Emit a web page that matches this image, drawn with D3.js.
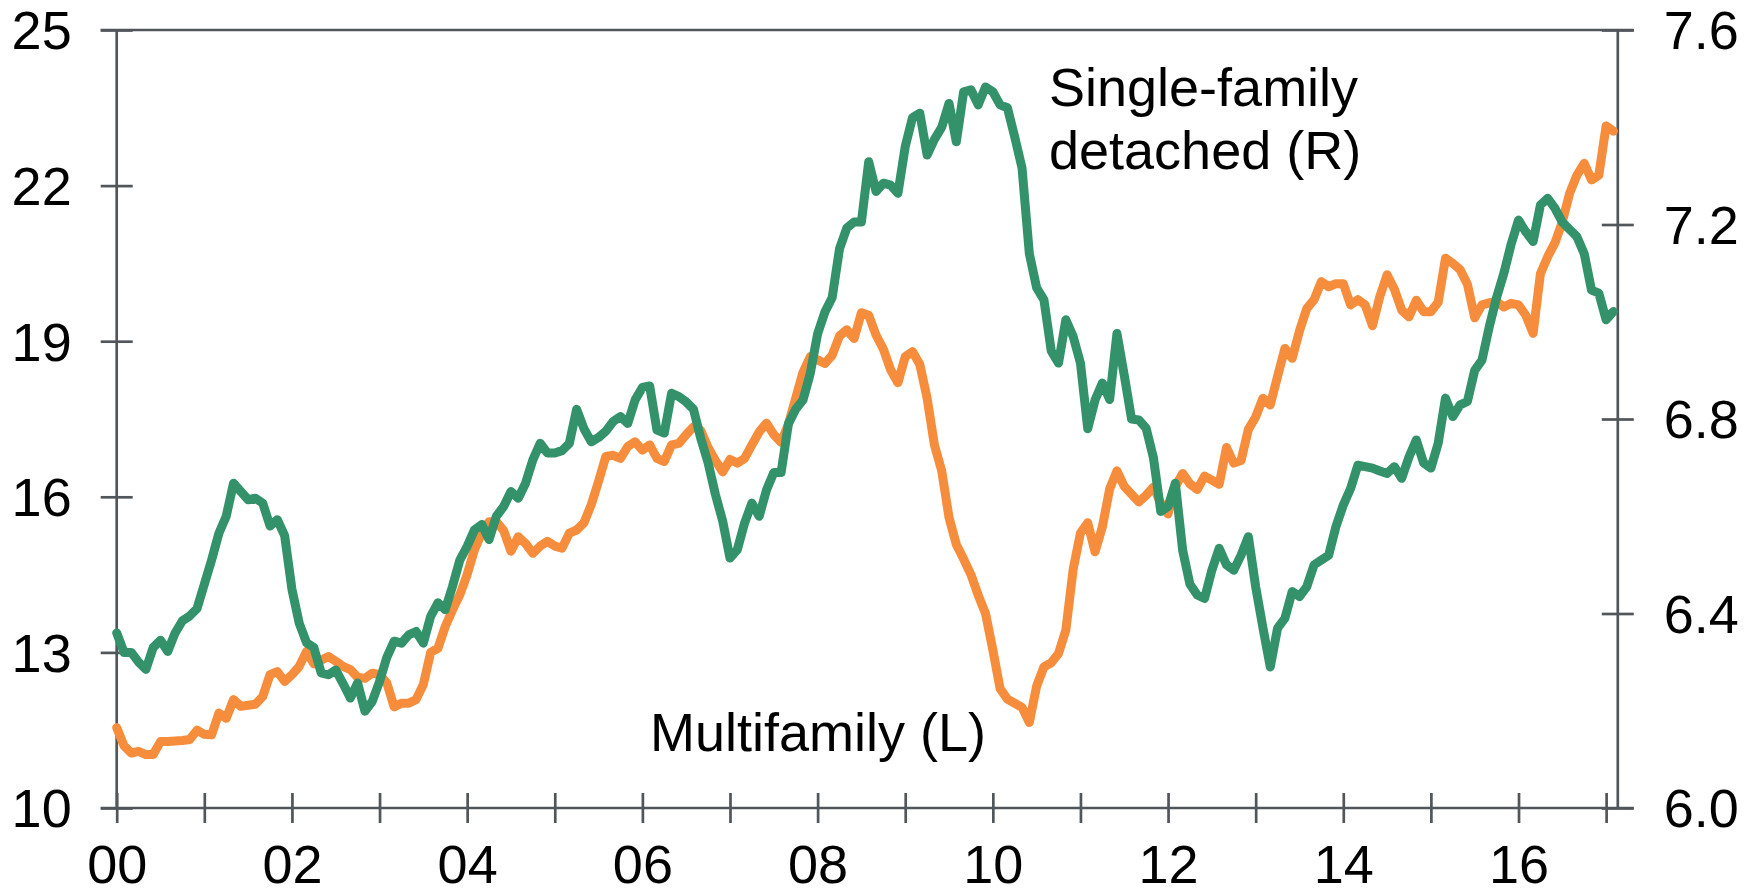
<!DOCTYPE html>
<html>
<head>
<meta charset="utf-8">
<script src="https://cdn.jsdelivr.net/npm/d3@7"></script>
<style>
  html, body { margin: 0; padding: 0; background: #fff; }
  svg { display: block; font-family: "Liberation Sans", Arial, sans-serif; }
</style>
</head>
<body>
<svg id="chart" width="1754" height="895"></svg>
<script>
// ---- Data (monthly, starting January 2000) ----
const startYear = 2000;
const yearTicks = [0,1,2,3,4,5,6,7,8,9,10,11,12,13,14,15,16,17];
const yearLabels = ["00","","02","","04","","06","","08","","10","","12","","14","","16",""];
const leftTicks = [10, 13, 16, 19, 22, 25];
const rightTicks = [6.0, 6.4, 6.8, 7.2, 7.6];

// Multifamily (L)
const multifamily = [
  11.55,11.2,11.06,11.09,11.03,11.03,11.28,11.28,11.29,11.30,11.32,11.5,
  11.42,11.41,11.83,11.73,12.09,11.96,11.98,12.0,12.15,12.57,12.63,12.44,
  12.57,12.73,13.02,12.78,12.85,12.92,12.83,12.73,12.67,12.52,12.5,12.6,
  12.57,12.41,11.95,12.02,12.02,12.09,12.38,13.0,13.08,13.5,13.82,14.11,
  14.5,14.98,15.3,15.52,15.52,15.35,14.95,15.23,15.1,14.91,15.05,15.14,
  15.05,15.01,15.3,15.36,15.5,15.85,16.3,16.78,16.8,16.74,16.97,17.06,
  16.9,17.0,16.74,16.68,17.0,17.03,17.2,17.35,17.28,16.95,16.7,16.48,
  16.72,16.65,16.74,17.0,17.25,17.42,17.2,17.05,17.4,17.9,18.4,18.7,
  18.64,18.57,18.73,19.1,19.22,19.05,19.55,19.5,19.12,18.85,18.45,18.2,
  18.7,18.8,18.55,17.9,17.0,16.5,15.6,15.08,14.8,14.5,14.1,13.75,
  13.05,12.3,12.1,12.02,11.94,11.65,12.35,12.72,12.8,12.98,13.43,14.6,
  15.3,15.5,14.94,15.42,16.15,16.5,16.2,16.05,15.9,16.03,16.19,15.88,
  15.67,16.2,16.45,16.25,16.14,16.4,16.32,16.24,16.95,16.65,16.7,17.3,
  17.54,17.9,17.77,18.32,18.86,18.67,19.2,19.63,19.8,20.15,20.05,20.11,
  20.11,19.7,19.8,19.7,19.3,19.86,20.28,20.0,19.6,19.47,19.79,19.57,
  19.57,19.75,20.6,20.5,20.38,20.1,19.45,19.7,19.74,19.76,19.66,19.73,
  19.7,19.5,19.15,20.3,20.63,20.9,21.3,21.85,22.2,22.43,22.11,22.2,
  23.15,23.05
];

// Single-family detached (R)
const singleFamily = [
  6.36,6.32,6.32,6.30,6.285,6.33,6.345,6.322,6.36,6.385,6.395,6.41,
  6.46,6.51,6.565,6.60,6.668,6.651,6.634,6.637,6.627,6.58,6.593,6.56,
  6.45,6.38,6.34,6.33,6.278,6.274,6.284,6.256,6.226,6.257,6.199,6.219,
  6.26,6.31,6.343,6.339,6.356,6.363,6.339,6.394,6.422,6.408,6.456,6.51,
  6.538,6.572,6.583,6.552,6.60,6.62,6.651,6.637,6.668,6.716,6.75,6.73,
  6.73,6.735,6.75,6.82,6.78,6.753,6.762,6.775,6.795,6.805,6.791,6.839,
  6.865,6.868,6.777,6.771,6.853,6.846,6.835,6.82,6.76,6.71,6.645,6.59,
  6.514,6.531,6.586,6.627,6.60,6.654,6.69,6.69,6.79,6.82,6.839,6.894,
  6.975,7.02,7.05,7.15,7.193,7.205,7.205,7.329,7.268,7.285,7.281,7.264,
  7.36,7.42,7.429,7.343,7.375,7.40,7.449,7.37,7.473,7.477,7.446,7.483,
  7.473,7.446,7.44,7.38,7.316,7.14,7.07,7.045,6.94,6.915,7.004,6.97,
  6.915,6.78,6.839,6.874,6.84,6.976,6.89,6.80,6.798,6.781,6.72,6.61,
  6.62,6.668,6.53,6.46,6.438,6.431,6.489,6.534,6.50,6.489,6.52,6.558,
  6.455,6.37,6.29,6.37,6.39,6.445,6.435,6.455,6.50,6.51,6.52,6.579,
  6.623,6.657,6.705,6.702,6.699,6.693,6.688,6.702,6.678,6.722,6.757,6.71,
  6.699,6.75,6.843,6.805,6.829,6.836,6.90,6.921,6.99,7.05,7.10,7.16,
  7.209,7.185,7.165,7.24,7.254,7.233,7.205,7.19,7.175,7.14,7.065,7.059,
  7.004,7.021
];

// ---- Layout ----
const W = 1754, H = 895;
const plotLeft = 116.7, plotRight = 1617.8, plotTop = 30, plotBottom = 808;
const tickLen = 16;
const axisColor = "#51565b";
const axisWidth = 2.7;
const orange = "#F58D3D";
const green = "#34926B";
const fontSize = 54;
const lineWidth = 9;

const svg = d3.select("#chart");
svg.append("rect").attr("width", W).attr("height", H).attr("fill", "#fff");

const x = d3.scaleLinear().domain([0, 205.6]).range([plotLeft, plotRight]);
const yL = d3.scaleLinear().domain([10, 25]).range([plotBottom, plotTop]);
const yR = d3.scaleLinear().domain([6.0, 7.6]).range([plotBottom, plotTop]);

// ---- Left axis ----
const gL = svg.append("g").attr("transform", `translate(${plotLeft},0)`);
gL.call(d3.axisLeft(yL).tickValues(leftTicks).tickSize(tickLen).tickSizeOuter(0).tickPadding(29).tickFormat(d3.format("d")));
gL.append("g").call(d3.axisRight(yL).tickValues(leftTicks).tickSize(tickLen).tickSizeOuter(0).tickFormat(""));

// ---- Right axis ----
const gR = svg.append("g").attr("transform", `translate(${plotRight},0)`);
gR.call(d3.axisRight(yR).tickValues(rightTicks).tickSize(tickLen).tickSizeOuter(0).tickPadding(30).tickFormat(d3.format(".1f")));
gR.append("g").call(d3.axisLeft(yR).tickValues(rightTicks).tickSize(tickLen).tickSizeOuter(0).tickFormat(""));

// ---- Bottom axis ----
const gB = svg.append("g").attr("transform", `translate(0,${plotBottom})`);
gB.call(d3.axisBottom(x).tickValues(yearTicks.map(d => d * 12)).tickSize(15).tickSizeOuter(0).tickPadding(0)
  .tickFormat((d, i) => yearLabels[i]));
gB.append("g").call(d3.axisTop(x).tickValues(yearTicks.map(d => d * 12)).tickSize(15).tickSizeOuter(0).tickFormat(""));

[gL, gR, gB].forEach(g => {
  g.selectAll(".domain").remove();
  g.selectAll("line").attr("stroke", axisColor).attr("stroke-width", axisWidth);
  g.selectAll("text").attr("fill", "#000").attr("font-size", fontSize)
    .attr("font-family", "'Liberation Sans', Arial, sans-serif");
});
gL.selectAll(".tick text").attr("dy", "0.35em");
gR.selectAll(".tick text").attr("dy", "0.35em");
gB.selectAll(".tick text").attr("y", 75).attr("dy", null);

// frame lines
const frame = [
  [plotLeft - tickLen, plotTop, plotRight + tickLen, plotTop],
  [plotLeft - tickLen, plotBottom, plotRight + tickLen, plotBottom],
  [plotLeft, plotTop, plotLeft, plotBottom],
  [plotRight, plotTop, plotRight, plotBottom]
];
svg.append("g").selectAll("line").data(frame).join("line")
  .attr("x1", d => d[0]).attr("y1", d => d[1]).attr("x2", d => d[2]).attr("y2", d => d[3])
  .attr("stroke", axisColor).attr("stroke-width", axisWidth);

// ---- Lines ----
const lineL = d3.line().x((d, i) => x(i)).y(d => yL(d));
const lineR = d3.line().x((d, i) => x(i)).y(d => yR(d));

svg.append("path").datum(multifamily)
  .attr("d", lineL).attr("fill", "none").attr("stroke", orange)
  .attr("stroke-width", lineWidth).attr("stroke-linejoin", "round").attr("stroke-linecap", "round");
svg.append("path").datum(singleFamily)
  .attr("d", lineR).attr("fill", "none").attr("stroke", green)
  .attr("stroke-width", lineWidth).attr("stroke-linejoin", "round").attr("stroke-linecap", "round");

// ---- Annotations ----
const ann = svg.append("g").attr("font-size", fontSize).attr("fill", "#000");
ann.append("text").attr("x", 1049).attr("y", 106).text("Single-family");
ann.append("text").attr("x", 1049).attr("y", 169).text("detached (R)");
ann.append("text").attr("x", 650).attr("y", 751).text("Multifamily (L)");
</script>
</body>
</html>
